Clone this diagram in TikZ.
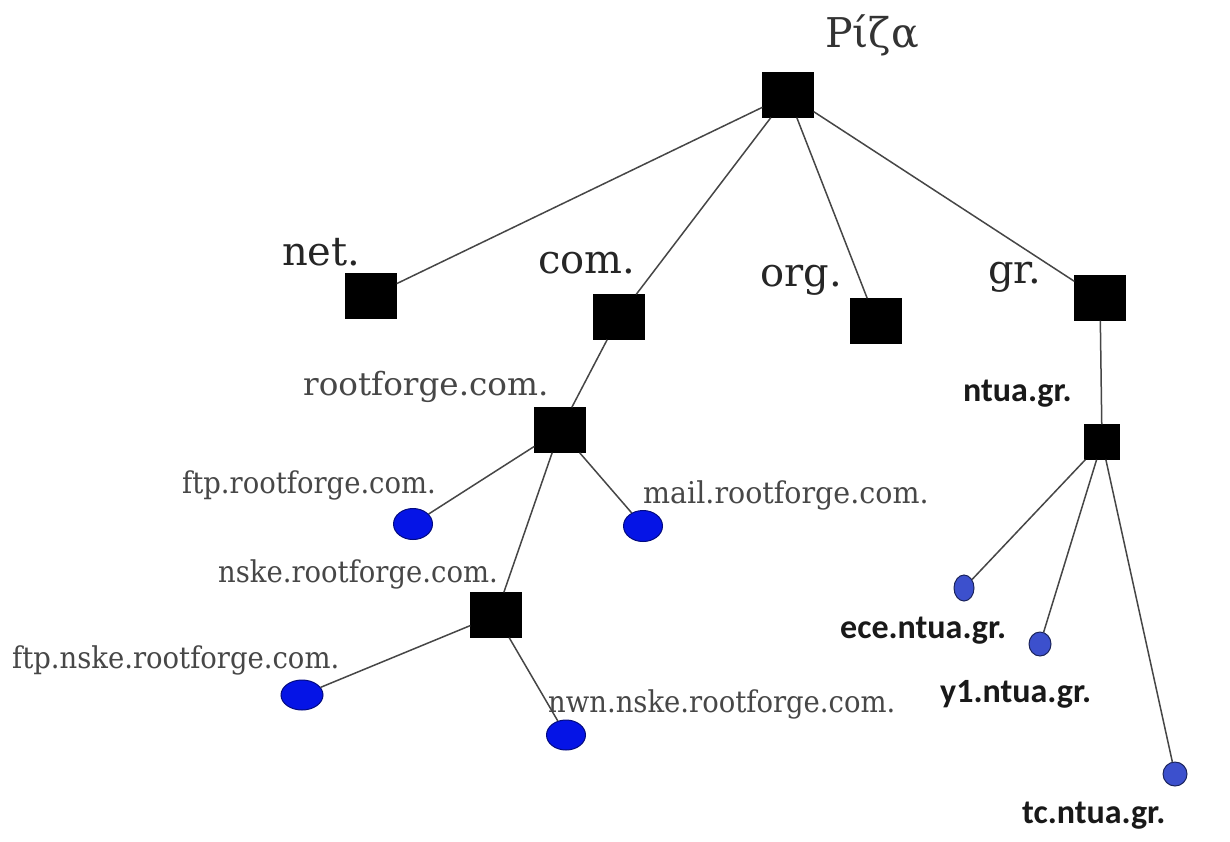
\documentclass[tikz,border=0pt]{standalone}
\usepackage{fontspec}
\setmainfont{DejaVu Serif}
\newfontfamily\ntuafont{Carlito}
\usetikzlibrary{shapes.geometric}
\definecolor{hostblue}{RGB}{5,20,230}
\definecolor{ntuablue}{RGB}{60,80,205}
\definecolor{linegray}{RGB}{70,70,70}
\newcommand{\hostname}[2][0.915]{\scalebox{#1}[1]{#2}}
\begin{document}
\begin{tikzpicture}[x=1pt,y=-1pt,
  zone/.style={rectangle, fill=black, draw=black, inner sep=0pt,
               minimum width=51pt, minimum height=45pt},
  subzone/.style={zone, minimum width=35pt, minimum height=35pt},
  hostdot/.style={ellipse, fill=hostblue, draw=hostblue!55!black, line width=1pt,
                  inner sep=0pt, minimum width=39pt, minimum height=31pt},
  ntuadot/.style={ellipse, fill=ntuablue, draw=ntuablue!45!black, line width=1pt,
                  inner sep=0pt, minimum width=22pt, minimum height=25pt},
  rootlbl/.style={inner sep=0pt, anchor=base west, text=black!80,
                  font=\fontsize{41}{43}\selectfont},
  tldlbl/.style={inner sep=0pt, anchor=base west, text=black!85,
                 font=\fontsize{40}{42}\selectfont},
  hostlbl/.style={inner sep=0pt, anchor=base west, text=black!72,
                  font=\fontsize{30}{32}\selectfont},
  ntualbl/.style={inner sep=0pt, anchor=base west, text=black!90,
                  font=\ntuafont\bfseries\fontsize{34}{36}\selectfont},
  link/.style={draw=linegray, line width=1.5pt}
]
\useasboundingbox[fill=white] (0,0) rectangle (1230,841);

% zone nodes
\node[zone] (root) at (788,95) {};
\node[zone] (net) at (371,296) {};
\node[zone] (com) at (619,317) {};
\node[zone] (org) at (876,321) {};
\node[zone] (gr) at (1100,298) {};
\node[zone] (rf) at (560,430) {};
\node[zone] (nske) at (496,615) {};
\node[subzone] (ntua) at (1102,442) {};

% hosts
\node[hostdot] (ftprf) at (413,524) {};
\node[hostdot] (mailrf) at (643,526) {};
\node[hostdot, minimum width=42pt, minimum height=30pt] (ftpnske) at (302,695) {};
\node[hostdot, minimum height=30pt] (nwn) at (566,735) {};
\node[ntuadot, minimum width=20pt, minimum height=26pt] (ece) at (964,588) {};
\node[ntuadot, minimum height=24pt] (yone) at (1040,644) {};
\node[ntuadot, minimum width=24pt, minimum height=24pt] (tc) at (1175,774) {};

% links
\draw[link] (root) -- (net);
\draw[link] (root) -- (com);
\draw[link] (root) -- (org);
\draw[link] (root) -- (gr);
\draw[link] (com) -- (rf);
\draw[link] (rf) -- (ftprf);
\draw[link] (rf) -- (mailrf);
\draw[link] (rf) -- (nske);
\draw[link] (nske) -- (ftpnske);
\draw[link] (nske) -- (nwn);
\draw[link] (gr) -- (ntua);
\draw[link] (ntua) -- (ece);
\draw[link] (ntua) -- (yone);
\draw[link] (ntua) -- (tc);

% labels
\node[rootlbl] (lroot) at (825,47) {Ρίζα};
\node[tldlbl] (lnet) at (282,265) {net.};
\node[tldlbl] (lcom) at (538,273) {com.};
\node[tldlbl] (lorg) at (760,286) {org.};
\node[tldlbl] (lgr) at (988,283) {gr.};
\node[hostlbl, font=\fontsize{32}{34}\selectfont] (lrf) at (303,395) {\hostname[1.02]{rootforge.com.}};
\node[hostlbl] (lftprf) at (182,493) {\hostname{ftp.rootforge.com.}};
\node[hostlbl] (lmailrf) at (643,503) {\hostname[0.95]{mail.rootforge.com.}};
\node[hostlbl] (lnske) at (218,582) {\hostname{nske.rootforge.com.}};
\node[hostlbl] (lftpnske) at (12,668) {\hostname{ftp.nske.rootforge.com.}};
\node[hostlbl] (lnwn) at (548,712) {\hostname{nwn.nske.rootforge.com.}};
\node[ntualbl] (lntua) at (963,401) {ntua.gr.};
\node[ntualbl] (lece) at (840,638) {ece.ntua.gr.};
\node[ntualbl] (lyone) at (940,702) {y1.ntua.gr.};
\node[ntualbl] (ltc) at (1022,823) {tc.ntua.gr.};
\end{tikzpicture}
\end{document}
